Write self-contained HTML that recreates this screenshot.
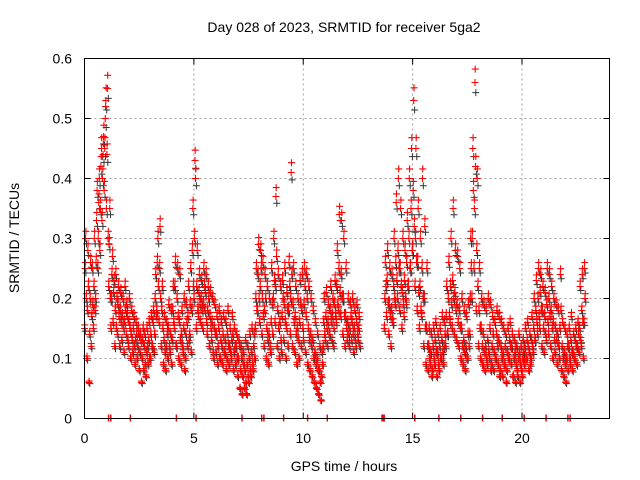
<!DOCTYPE html>
<html><head><meta charset="utf-8"><style>
html,body{margin:0;padding:0;background:#fff;}
svg{display:block;font-family:"Liberation Sans",sans-serif;}
</style></head><body>
<svg id="chart" width="640" height="480" viewBox="0 0 640 480" xmlns="http://www.w3.org/2000/svg">
<rect width="640" height="480" fill="#fff"/>
<text x="344" y="32" font-size="14" text-anchor="middle">Day 028 of 2023, SRMTID for receiver 5ga2</text>
<text x="344" y="471" font-size="14" text-anchor="middle">GPS time / hours</text>
<text transform="translate(19,238) rotate(-90)" font-size="14" text-anchor="middle">SRMTID / TECUs</text>
<g id="grid"></g>
<g id="ticks"></g>
<g id="points"></g>
<rect x="84.5" y="58.5" width="525" height="360" fill="none" stroke="#000" stroke-width="1"/>
</svg>
<script>
const xTicks = [0,5,10,15,20];
const yTicks = [0,0.1,0.2,0.3,0.4,0.5,0.6];
const yTickLabels = ["0","0.1","0.2","0.3","0.4","0.5","0.6"];
const zeroHours = [1.1,1.2,2.1,4.2,5.1,7.2,8.1,8.2,9.1,10.2,11.1,13.6,13.65,13.7,15.1,16.2,17.2,18.2,19.1,20.1,21.1,22.1,22.2];
const morningRows = [
[0.0,15,25,30,20],[0.1,10,18,28,22],[0.2,6,14,20,26],[0.3,12,17,25,19],[0.4,15,22,30,18],[0.5,20,26,33,38],[0.6,25,30,36,40],[0.7,28,35,42,45],[0.8,33,40,44,47],[0.9,38,45,50,53],
[1.0,35,44,55,30],[1.1,22,29,35,20],[1.2,15,20,24,27],[1.3,16,21,23,12],[1.4,18,24,15,20],[1.5,14,19,22,17],[1.6,12,18,21,16],[1.7,13,17,20,15],[1.8,11,16,22,18],[1.9,14,19,17,13],
[2.0,12,16,20,15],[2.1,10,14,18,13],[2.2,11,15,17,12],[2.3,9,13,16,14],[2.4,10,12,15,14],[2.5,8,11,14,13],[2.6,6,10,13,15],[2.7,8,12,14,9],[2.8,7,11,15,12],[2.9,9,13,16,10],
[3.0,10,14,17,12],[3.1,12,16,18,11],[3.2,14,20,24,17],[3.3,18,26,30,22],[3.4,16,25,32,20],[3.5,12,18,22,15],[3.6,9,13,17,11],[3.7,8,12,16,14],[3.8,10,15,19,12],[3.9,11,14,18,9],
[4.0,13,18,22,16],[4.1,15,22,26,12],[4.2,12,20,25,17],[4.3,10,16,24,13],[4.4,9,14,18,12],[4.5,11,15,20,8],[4.6,10,14,19,16],[4.7,12,17,22,13],[4.8,14,19,25,11],[4.9,18,28,35,22],
[5.0,20,30,43,40],[5.1,15,22,28,18],[5.2,17,21,24,19],[5.3,16,20,23,18],[5.4,15,19,25,22],[5.5,18,21,24,16],[5.6,14,18,22,20],[5.7,12,17,21,15],[5.8,13,16,20,11],[5.9,10,15,19,14],
[6.0,11,14,17,9],[6.1,12,15,18,10],[6.2,10,13,16,12],[6.3,9,14,17,11],[6.4,11,13,16,8],[6.5,10,14,18,12],[6.6,9,12,15,11],[6.7,10,13,17,14],[6.8,8,11,15,12],[6.9,9,12,14,10],
[7.0,7,10,13,12],[7.1,5,8,12,10],[7.2,4,7,11,9],[7.3,5,8,13,6],[7.4,4,9,12,7],[7.5,6,10,14,8],[7.6,7,11,15,9],[7.7,8,12,14,10],[7.8,15,20,25,18],[7.9,18,24,29,20],
[8.0,16,22,28,25],[8.1,14,20,26,17],[8.2,12,18,24,20],[8.3,10,15,22,13],[8.4,9,14,20,12],[8.5,11,16,25,19],[8.6,14,20,30,23],[8.7,16,22,37,27],[8.8,12,18,24,15],[8.9,10,16,22,13],
[9.0,11,17,23,20],[9.1,13,19,25,16],[9.2,10,15,21,18],[9.3,12,18,26,22],[9.4,14,20,41,24],[9.5,12,19,25,16],[9.6,11,17,22,14],[9.7,9,15,20,13],[9.8,10,16,23,19],[9.9,12,18,24,15],
[10.0,13,19,25,22],[10.1,11,17,24,20],[10.2,9,15,22,13],[10.3,8,14,20,12],[10.4,7,13,18,10],[10.5,6,11,16,9],[10.6,5,10,14,8],[10.7,4,8,12,6],[10.8,3,7,11,9],[10.9,12,16,20,14],
[11.0,13,17,21,15],[11.1,12,16,19,14],[11.2,14,18,22,16],[11.3,13,17,20,12],[11.4,15,19,23,17],[11.5,16,22,28,19],[11.6,18,25,34,21],[11.7,17,24,33,20],[11.8,14,20,30,17],[11.9,12,17,25,15],
[12.0,13,16,20,14],[12.1,12,15,19,17],[12.2,13,16,20,14],[12.3,11,15,18,13],[12.4,12,16,19,14],[12.5,13,15,17,12]
];
const afternoonRows = [
[13.7,15,20,26,22],[13.8,17,23,28,19],[13.9,14,19,25,17],[14.0,12,18,24,16],[14.1,16,22,30,20],[14.2,19,26,36,23],[14.3,20,28,40,25],[14.4,18,25,35,22],[14.5,15,21,30,19],[14.6,17,23,28,20],
[14.7,19,26,33,22],[14.8,22,30,40,25],[14.9,25,35,45,28],[15.0,28,38,53,32],[15.1,22,30,45,26],[15.2,18,26,35,21],[15.3,15,22,30,18],[15.4,17,25,40,20],[15.5,12,20,32,15],[15.6,9,15,25,12],
[15.7,8,12,15,10],[15.8,9,11,14,7],[15.9,8,12,15,10],[16.0,9,13,16,11],[16.1,7,11,14,9],[16.2,8,12,15,10],[16.3,10,13,17,11],[16.4,9,12,16,14],[16.5,12,17,22,14],[16.6,14,20,26,17],
[16.7,16,22,30,19],[16.8,15,23,35,20],[16.9,14,21,28,18],[17.0,13,19,27,16],[17.1,12,18,25,15],[17.2,10,15,20,12],[17.3,9,13,18,11],[17.4,8,12,17,10],[17.5,10,14,19,12],[17.6,14,20,30,25],
[17.7,20,30,45,38],[17.8,25,35,56,42],[17.9,18,28,40,22],[18.0,12,18,25,15],[18.1,10,15,20,12],[18.2,9,14,19,11],[18.3,8,12,18,10],[18.4,9,13,20,11],[18.5,10,15,19,8],[18.6,9,12,17,14],
[18.7,8,11,16,10],[18.8,10,14,18,12],[18.9,9,13,17,7],[19.0,8,12,16,10],[19.1,7,11,15,9],[19.2,9,12,14,6],[19.3,8,11,15,10],[19.4,10,13,16,12],[19.5,9,12,14,7],[19.6,7,10,13,11],
[19.7,6,9,12,8],[19.8,7,10,14,11],[19.9,6,9,12,8],[20.0,7,10,13,11],[20.1,9,12,15,10],[20.2,10,13,16,12],[20.3,8,11,14,9],[20.4,10,13,17,12],[20.5,11,15,20,13],[20.6,13,18,23,16],
[20.7,14,20,25,17],[20.8,15,21,24,18],[20.9,12,18,22,15],[21.0,11,17,21,14],[21.1,13,19,25,16],[21.2,14,20,24,17],[21.3,12,18,22,15],[21.4,10,16,20,13],[21.5,11,15,19,13],[21.6,9,14,18,12],
[21.7,10,15,24,18],[21.8,8,12,16,10],[21.9,7,11,15,9],[22.0,6,10,14,12],[22.1,8,12,15,10],[22.2,9,13,17,11],[22.3,8,11,14,10],[22.4,10,13,15,12],[22.5,9,12,16,14],[22.6,11,15,22,13],
[22.7,12,18,24,16],[22.8,10,16,25,20]
];
const X0=84.5, X1=609.5, Y0=418.5, Y1=58.5;
function xs(h){return X0+(h/24)*(X1-X0);}
function ys(v){return Y0-(v/0.6)*(Y0-Y1);}
const NS="http://www.w3.org/2000/svg";
function mk(tag,attrs,parent){const e=document.createElementNS(NS,tag);for(const k in attrs)e.setAttribute(k,attrs[k]);parent.appendChild(e);return e;}
const grid=document.getElementById('grid'), ticks=document.getElementById('ticks'), pts=document.getElementById('points');
xTicks.forEach(t=>{
  const x=xs(t);
  if(t>0){const g=mk('line',{x1:x,x2:x,y1:Y1,y2:Y0,stroke:'#a0a0a0','stroke-dasharray':'2,3'},grid);
  
  }
  const lb=mk('text',{x:x,y:443,'font-size':14,'text-anchor':'middle'},ticks);lb.textContent=t;
  
  
  mk('line',{x1:x,x2:x,y1:Y0,y2:Y0-6,stroke:'#000'},ticks);
  mk('line',{x1:x,x2:x,y1:Y1,y2:Y1+6,stroke:'#000'},ticks);
});
yTicks.forEach((t,i)=>{
  const y=ys(t);
  if(i>0&&i<yTicks.length-1){const g=mk('line',{x1:X0,x2:X1,y1:y,y2:y,stroke:'#a0a0a0','stroke-dasharray':'2,3'},grid);
  
  }
  const lb=mk('text',{x:72,y:y+5,'font-size':14,'text-anchor':'end'},ticks);lb.textContent=yTickLabels[i];
  
  
  mk('line',{x1:X0,x2:X0+6,y1:y,y2:y,stroke:'#000'},ticks);
  mk('line',{x1:X1,x2:X1-6,y1:y,y2:y,stroke:'#000'},ticks);
});
let d='', db='';
function plus(h,v){const x=xs(h),y=ys(v);return `M${(x-3.5).toFixed(1)} ${y.toFixed(1)}h7M${x.toFixed(1)} ${(y-3.5).toFixed(1)}v7`;}
[morningRows,afternoonRows].forEach(rows=>rows.forEach(r=>{
  for(let k=1;k<r.length;k++){
    const h=r[0]+(k-1)*0.025, v=r[k]/100;
    db+=plus(h+0.04,v*0.97);
    d+=plus(h,v);
    d+=plus(h+0.0125,v*1.04);
  }
}));
const pb=mk('path',{d:db,stroke:'#333','stroke-width':1,fill:'none'},pts);


const p=mk('path',{d:d,stroke:'#ff0000','stroke-width':1.1,fill:'none'},pts);


let z='';
zeroHours.forEach(h=>{const x=xs(h);z+=`M${x.toFixed(1)} ${Y0-4}v7`;});
const zp=mk('path',{d:z,stroke:'#ff0000','stroke-width':1.5,fill:'none'},pts);


</script>
</body></html>
